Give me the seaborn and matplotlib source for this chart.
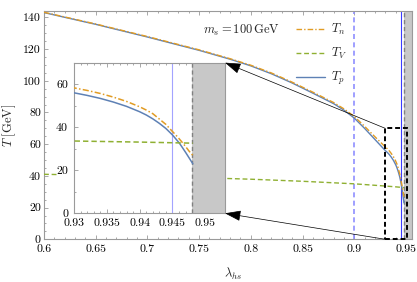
import matplotlib
matplotlib.use("Agg")
import matplotlib.pyplot as plt
import seaborn as sns
from matplotlib import ticker
from matplotlib.patches import Rectangle, ConnectionPatch

# ── Data ─────────────────────────────────────────────────────────────────────
lam = [0.60, 0.65, 0.70, 0.75, 0.78, 0.80, 0.82, 0.84, 0.86, 0.88, 0.89,
       0.90, 0.91, 0.92, 0.930, 0.932, 0.934, 0.936, 0.938, 0.940, 0.941,
       0.942, 0.943, 0.944, 0.945, 0.9455, 0.946, 0.9465, 0.947, 0.9475,
       0.9481]
T_p = [143.0, 135.6, 127.6, 119.2, 113.6, 109.4, 104.4, 98.6, 92.2, 85.6,
       81.5, 76.5, 70.0, 63.0, 56.0, 54.8, 53.4, 51.7, 49.7, 47.2, 45.7,
       43.9, 41.8, 39.4, 36.4, 34.6, 32.8, 30.6, 28.3, 25.9, 23.0]
T_n = [143.2, 135.8, 127.9, 119.5, 113.9, 109.8, 104.9, 99.1, 92.8, 86.3,
       82.3, 77.5, 71.3, 64.7, 58.3, 57.1, 55.7, 54.0, 52.0, 49.5, 48.0,
       46.3, 43.8, 41.3, 38.0, 36.4, 34.7, 32.9, 31.0, 29.0, 26.9]

lam_v = [0.60, 0.65, 0.70, 0.75, 0.80, 0.85, 0.90, 0.93, 0.94, 0.9481]
T_v = [41.0, 40.4, 39.7, 38.9, 37.9, 36.6, 35.0, 33.6, 33.1, 32.6]

LAM_DASHED = 0.90      # dashed blue marker
LAM_SOLID = 0.9449     # solid blue marker
LAM_EXCL = 0.948       # start of the excluded (grey) band

MAIN_XLIM = (0.6, 0.9556)
MAIN_YLIM = (0, 144)
INS_XLIM = (0.93, 0.953)
INS_YLIM = (0, 70)
ZOOM_BOX = (0.93, 0.9508, 0, 70)

C_N = "#E19C24"
C_V = "#8FB032"
C_P = "#5E81B5"
FRAME = "#9a9a9a"
BAND = "#c8c8c8"

sns.set_theme(style="ticks")
plt.rcParams.update({
    "font.family": "serif",
    "font.serif": ["cmr10"],
    "mathtext.fontset": "cm",
    "axes.formatter.use_mathtext": True,
    "axes.unicode_minus": False,
    "axes.edgecolor": FRAME,
    "axes.linewidth": 0.8,
    "xtick.color": FRAME,
    "ytick.color": FRAME,
    "xtick.labelcolor": "black",
    "ytick.labelcolor": "black",
})

fmt = ticker.FuncFormatter(lambda v, _: f"{v:g}")


def style_axes(a, xmaj, xmin, ymaj, ymin, xpad, ypad):
    a.xaxis.set_major_locator(ticker.FixedLocator(xmaj))
    a.xaxis.set_minor_locator(ticker.MultipleLocator(xmin))
    a.yaxis.set_major_locator(ticker.FixedLocator(ymaj))
    a.yaxis.set_minor_locator(ticker.MultipleLocator(ymin))
    a.xaxis.set_major_formatter(fmt)
    a.yaxis.set_major_formatter(fmt)
    a.tick_params(which="both", direction="in", top=True, right=True,
                  width=0.6, labelsize=8.5)
    a.tick_params(which="major", length=3.0)
    a.tick_params(which="minor", length=1.7)
    a.tick_params(axis="x", pad=xpad)
    a.tick_params(axis="y", pad=ypad)
    a.grid(False)


def draw_curves(a, lw):
    sns.lineplot(x=lam, y=T_p, ax=a, color=C_P, lw=lw, estimator=None,
                 sort=False, label=r"$T_p$", zorder=3)
    sns.lineplot(x=lam, y=T_n, ax=a, color=C_N, lw=lw, estimator=None,
                 sort=False, label=r"$T_n$", zorder=3,
                 linestyle=(0, (4, 1.5, 1, 1.5)))
    sns.lineplot(x=lam_v, y=T_v, ax=a, color=C_V, lw=lw, estimator=None,
                 sort=False, label=r"$T_V$", zorder=3,
                 linestyle=(0, (3.5, 2)))


fig = plt.figure(figsize=(4.17, 2.82), dpi=100)
ax = fig.add_axes([0.1055, 0.1514, 0.8818, 0.8096])

# ── Main panel ───────────────────────────────────────────────────────────────
ax.axvspan(LAM_EXCL, 1.0, color=BAND, lw=0, zorder=1)
ax.axvline(LAM_EXCL, color="#808080", lw=1.0, ls=(0, (3, 2)), zorder=2)
ax.axvline(LAM_DASHED, color="#8f8fff", lw=1.2, ls=(0, (3, 2)), zorder=2)
ax.axvline(LAM_SOLID, color="#3b3bff", lw=0.8, zorder=2)
draw_curves(ax, 1.0)

x0, x1, y0, y1 = ZOOM_BOX
ax.add_patch(Rectangle((x0, y0), x1 - x0, y1 - y0, fill=False,
                       edgecolor="black", lw=1.4, ls=(0, (2.5, 1.5)),
                       zorder=4, clip_on=False))

ax.set_xlim(*MAIN_XLIM)
ax.set_ylim(*MAIN_YLIM)
style_axes(ax, [0.6, 0.65, 0.7, 0.75, 0.8, 0.85, 0.9, 0.95], 0.01,
           list(range(0, 141, 20)), 5, 3.5, 2.2)
ax.set_xlabel(r"$\lambda_{hs}$", fontsize=9)
ax.xaxis.set_label_coords(0.514, -0.118)
ax.set_ylabel(r"$T\ [\mathrm{GeV}]$", fontsize=9)
ax.yaxis.set_label_coords(-0.072, 0.5)

handles, labels = ax.get_legend_handles_labels()
order = [labels.index(k) for k in (r"$T_n$", r"$T_V$", r"$T_p$")]
ax.legend([handles[i] for i in order], [labels[i] for i in order],
          loc="upper left", bbox_to_anchor=(296 / 417, 1 - 22 / 282),
          bbox_transform=fig.transFigure, frameon=False, fontsize=9,
          handlelength=2.3, handletextpad=0.5, labelspacing=0.72,
          borderpad=0, borderaxespad=0)
fig.text(242 / 417, 1 - 30 / 282, r"$m_s = 100\,\mathrm{GeV}$",
         ha="center", va="center", fontsize=9)

# white backing behind the inset (covers its tick labels too)
fig.add_artist(Rectangle((58 / 417, 1 - 232 / 282), 167 / 417, 170 / 282,
                         transform=fig.transFigure, facecolor="white",
                         edgecolor="none", zorder=2))

# ── Inset ────────────────────────────────────────────────────────────────────
axins = fig.add_axes([0.1775, 0.2436, 0.3621, 0.5341])
axins.set_zorder(3)
axins.set_facecolor("white")
axins.axvspan(LAM_EXCL, 1.0, color=BAND, lw=0, zorder=1)
axins.axvline(LAM_EXCL, color="#808080", lw=1.0, ls=(0, (3, 2)), zorder=2)
axins.axvline(LAM_SOLID, color="#a3a3ff", lw=0.8, zorder=2)
draw_curves(axins, 1.1)
axins.get_legend().remove()
axins.set_xlim(*INS_XLIM)
axins.set_ylim(*INS_YLIM)
style_axes(axins, [0.93, 0.935, 0.94, 0.945, 0.95], 0.001,
           [0, 20, 40, 60], 10, 4.0, 4.3)
axins.set_xlabel("")
axins.set_ylabel("")

# ── Arrows from the zoom box to the inset ────────────────────────────────────
for (bx, by), (ix, iy) in [((x0, y1), (1, 1)), ((x0, y0), (1, 0))]:
    fig.add_artist(ConnectionPatch(
        xyA=(bx, by), coordsA=ax.transData,
        xyB=(ix, iy), coordsB=axins.transAxes,
        arrowstyle="-|>,head_length=0.9,head_width=0.3", mutation_scale=11,
        color="black", lw=0.5, zorder=5))

fig.savefig("out.png", dpi=100)
